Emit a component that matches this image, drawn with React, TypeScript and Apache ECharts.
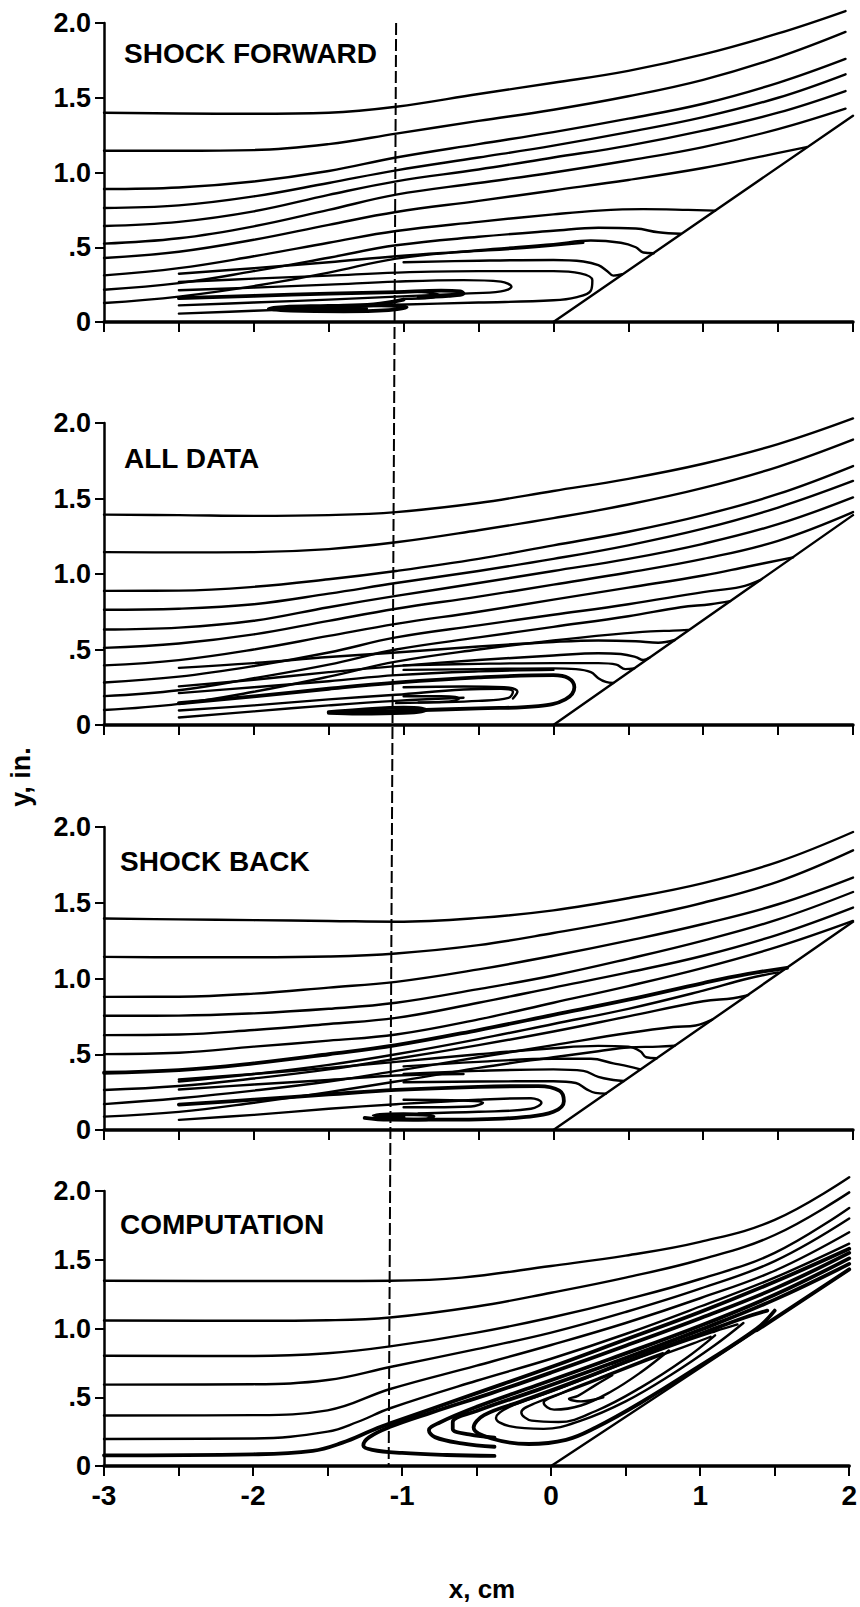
import React, { useEffect, useRef } from "react";
import * as echarts from "echarts";

const FONT = "'Liberation Sans', Arial, Helvetica, sans-serif";

const panelTitles = ["SHOCK FORWARD", "ALL DATA", "SHOCK BACK", "COMPUTATION"];
const yTickValues = [0, 0.5, 1, 1.5, 2];
const yTickTexts = ["0", ".5", "1.0", "1.5", "2.0"];
const xLabelValues = [-3, -2, -1, 0, 1, 2];
const xLabelTexts = ["-3", "-2", "-1", "0", "1", "2"];
const rampTops = [1.38, 1.39, 1.374, 1.43];
const dashedLineX = [-1.05, -1.09];

// ---------- Panel 1: SHOCK FORWARD ----------
const p1A = [[-3,1.4],[-2.5,1.395],[-2,1.393],[-1.5,1.4],[-1.05,1.44],[-0.5,1.525],[0,1.6],[0.5,1.68],[1,1.79],[1.5,1.93],[1.95,2.08]];
const p1B = [[-3,1.145],[-2.5,1.145],[-2,1.15],[-1.5,1.19],[-1.05,1.26],[-0.5,1.345],[0,1.42],[0.5,1.51],[1,1.62],[1.5,1.77],[1.95,1.94]];
const p1C = [[-3,0.89],[-2.5,0.9],[-2,0.94],[-1.5,1.01],[-1.05,1.1],[-0.5,1.19],[0,1.27],[0.5,1.36],[1,1.46],[1.5,1.6],[1.95,1.76]];
const p1D = [[-3,0.763],[-2.5,0.78],[-2,0.84],[-1.5,0.93],[-1.05,1.014],[-0.5,1.1],[0,1.18],[0.5,1.27],[1,1.37],[1.5,1.5],[1.95,1.657]];
const p1E = [[-3,0.642],[-2.5,0.67],[-2,0.74],[-1.5,0.85],[-1.05,0.941],[-0.5,1.02],[0,1.1],[0.5,1.18],[1,1.28],[1.5,1.4],[1.95,1.545]];
const p1F = [[-3,0.524],[-2.5,0.56],[-2,0.64],[-1.5,0.75],[-1.05,0.852],[-0.5,0.93],[0,1.0],[0.5,1.08],[1,1.17],[1.5,1.29],[1.95,1.427]];
const p1G = [[-3,0.428],[-2.5,0.47],[-2,0.55],[-1.5,0.65],[-1.05,0.736],[-0.5,0.81],[0,0.88],[0.5,0.95],[1,1.03],[1.4,1.11],[1.69,1.17]];
const p1H = [[-3,0.312],[-2.5,0.36],[-2,0.44],[-1.5,0.53],[-1.05,0.609],[-0.5,0.67],[0,0.72],[0.3,0.745],[0.6,0.755],[0.9,0.75],[1.08,0.745]];
const p1I = [[-3,0.216],[-2.5,0.26],[-2,0.34],[-1.5,0.43],[-1.05,0.513],[-0.5,0.57],[0,0.61],[0.3,0.63],[0.55,0.625],[0.7,0.6],[0.85,0.59]];
const p1J = [[-3,0.127],[-2.5,0.17],[-2,0.24],[-1.5,0.33],[-1.05,0.424],[-0.5,0.48],[0,0.52],[0.25,0.545],[0.45,0.53],[0.55,0.5],[0.6,0.465],[0.67,0.46]];
const p1K = [[-1.0,0.4],[-0.5,0.41],[0,0.415],[0.2,0.405],[0.3,0.38],[0.36,0.34],[0.4,0.31],[0.46,0.32]];
const p1L1 = [[-2.5,0.323],[-2,0.36],[-1.5,0.4],[-1.05,0.44],[-0.6,0.47],[-0.2,0.495],[0.2,0.53]];
const p1U1 = [[-2.5,0.268],[-2,0.29],[-1.5,0.31],[-1.05,0.33],[-0.5,0.34],[0,0.34],[0.18,0.325],[0.26,0.28],[0.25,0.21],[0.15,0.165],[0,0.145],[-0.5,0.13],[-1.05,0.115],[-1.5,0.095],[-2,0.075],[-2.5,0.056]];
const p1U2 = [[-2.5,0.212],[-2,0.23],[-1.5,0.25],[-1.05,0.27],[-0.6,0.28],[-0.35,0.27],[-0.28,0.235],[-0.35,0.205],[-0.6,0.19],[-1.05,0.17],[-1.5,0.15],[-2,0.13],[-2.5,0.111]];
const p1U3 = [[-2.5,0.16],[-2,0.175],[-1.5,0.19],[-1.05,0.2],[-0.75,0.21],[-0.62,0.205],[-0.6,0.19],[-0.7,0.175],[-0.9,0.165]];
const p1Eye = [[-1.0,0.15],[-1.2,0.118],[-1.5,0.108],[-1.8,0.1],[-1.9,0.09],[-1.75,0.076],[-1.4,0.072],[-1.1,0.08],[-0.98,0.098],[-1.15,0.112],[-1.5,0.105],[-1.75,0.092],[-1.5,0.086],[-1.25,0.09]];
const p1Hook = [[-0.98,0.205],[-0.85,0.198],[-0.76,0.18],[-0.82,0.162],[-1.0,0.155]];

// ---------- Panel 2: ALL DATA ----------
const p2A = [[-3,1.393],[-2.5,1.39],[-2,1.385],[-1.5,1.39],[-1.05,1.41],[-0.5,1.47],[0,1.55],[0.5,1.63],[1,1.73],[1.5,1.86],[2,2.03]];
const p2B = [[-3,1.145],[-2.5,1.143],[-2,1.145],[-1.5,1.165],[-1.05,1.21],[-0.5,1.29],[0,1.37],[0.5,1.46],[1,1.57],[1.5,1.71],[2,1.89]];
const p2C = [[-3,0.888],[-2.5,0.89],[-2,0.915],[-1.5,0.965],[-1.05,1.02],[-0.5,1.1],[0,1.19],[0.5,1.28],[1,1.39],[1.5,1.53],[2,1.715]];
const p2D = [[-3,0.763],[-2.5,0.77],[-2,0.8],[-1.5,0.87],[-1.05,0.94],[-0.5,1.02],[0,1.1],[0.5,1.19],[1,1.3],[1.5,1.44],[2,1.616]];
const p2E = [[-3,0.632],[-2.5,0.645],[-2,0.69],[-1.5,0.78],[-1.05,0.855],[-0.5,0.94],[0,1.02],[0.5,1.1],[1,1.2],[1.5,1.33],[2,1.507]];
const p2F = [[-3,0.511],[-2.5,0.54],[-2,0.6],[-1.5,0.69],[-1.05,0.77],[-0.5,0.85],[0,0.93],[0.5,1.01],[1,1.1],[1.5,1.22],[2,1.41]];
const p2G = [[-3,0.395],[-2.5,0.43],[-2,0.5],[-1.5,0.59],[-1.05,0.67],[-0.5,0.75],[0,0.83],[0.5,0.91],[1,0.99],[1.3,1.05],[1.6,1.11]];
const p2H = [[-3,0.281],[-2.5,0.32],[-2,0.39],[-1.5,0.48],[-1.05,0.58],[-0.5,0.66],[0,0.73],[0.5,0.8],[1,0.88],[1.25,0.915],[1.38,0.96]];
const p2I = [[-3,0.191],[-2.5,0.23],[-2,0.31],[-1.5,0.4],[-1.05,0.5],[-0.5,0.58],[0,0.65],[0.5,0.72],[0.85,0.78],[1.05,0.8],[1.18,0.82]];
const p2J = [[-3,0.099],[-2.5,0.14],[-2,0.22],[-1.5,0.32],[-1.05,0.42],[-0.5,0.5],[0,0.56],[0.4,0.6],[0.65,0.62],[0.8,0.625],[0.9,0.63]];
const p2L1 = [[-2.5,0.378],[-2,0.41],[-1.5,0.45],[-1.05,0.48],[-0.5,0.52],[0,0.55],[0.3,0.56],[0.55,0.555],[0.7,0.545],[0.81,0.563]];
const p2L2 = [[-2.5,0.256],[-2,0.3],[-1.5,0.35],[-1.05,0.39],[-0.5,0.43],[0,0.46],[0.3,0.475],[0.45,0.47],[0.55,0.45],[0.6,0.43],[0.64,0.445]];
const p2M1 = [[-1.0,0.395],[-0.5,0.405],[0,0.41],[0.3,0.41],[0.42,0.4],[0.48,0.37],[0.54,0.375]];
const p2K = [[-1.0,0.365],[-0.5,0.37],[0,0.375],[0.15,0.37],[0.25,0.35],[0.3,0.31],[0.35,0.285],[0.4,0.278]];
const p2U1 = [[-2.5,0.144],[-2,0.19],[-1.5,0.24],[-1.05,0.28],[-0.5,0.315],[0,0.33],[0.1,0.31],[0.14,0.25],[0.08,0.17],[-0.1,0.125],[-0.5,0.11],[-1.0,0.095],[-1.4,0.08]];
const p2U2 = [[-2.5,0.096],[-2,0.13],[-1.5,0.17],[-1.05,0.2],[-0.6,0.235],[-0.35,0.24],[-0.27,0.22],[-0.3,0.18],[-0.5,0.16],[-0.8,0.15],[-1.05,0.145]];
const p2U2b = [[-1.0,0.25],[-0.6,0.255],[-0.33,0.25],[-0.24,0.22],[-0.27,0.175]];
const p2U3 = [[-1.0,0.19],[-0.75,0.19],[-0.63,0.175],[-0.7,0.155],[-0.9,0.15]];
const p2Eye = [[-1.5,0.08],[-1.3,0.075],[-1.0,0.08],[-0.85,0.1],[-1.0,0.115],[-1.3,0.1],[-1.5,0.085]];
const p2L3 = [[-2.5,0.211],[-2,0.25],[-1.5,0.29],[-1.05,0.33],[-0.5,0.355],[0,0.365]];
const p2L4 = [[-2.5,0.05],[-2,0.09],[-1.5,0.13],[-1.05,0.16],[-0.6,0.18]];

// ---------- Panel 3: SHOCK BACK ----------
const p3A = [[-3,1.396],[-2.5,1.39],[-2,1.385],[-1.5,1.38],[-1.05,1.375],[-0.5,1.4],[0,1.45],[0.5,1.53],[1,1.63],[1.5,1.77],[2,1.967]];
const p3B = [[-3,1.143],[-2.5,1.14],[-2,1.14],[-1.5,1.145],[-1.05,1.165],[-0.5,1.22],[0,1.3],[0.5,1.39],[1,1.5],[1.5,1.64],[2,1.846]];
const p3C = [[-3,0.879],[-2.5,0.88],[-2,0.9],[-1.5,0.94],[-1.05,0.978],[-0.5,1.06],[0,1.15],[0.5,1.25],[1,1.36],[1.5,1.49],[2,1.666]];
const p3D = [[-3,0.754],[-2.5,0.755],[-2,0.77],[-1.5,0.8],[-1.05,0.84],[-0.5,0.93],[0,1.02],[0.5,1.13],[1,1.25],[1.5,1.39],[2,1.571]];
const p3E = [[-3,0.626],[-2.5,0.63],[-2,0.66],[-1.5,0.7],[-1.05,0.74],[-0.5,0.84],[0,0.94],[0.5,1.04],[1,1.15],[1.5,1.29],[2,1.468]];
const p3F = [[-3,0.501],[-2.5,0.51],[-2,0.55],[-1.5,0.59],[-1.05,0.63],[-0.5,0.73],[0,0.84],[0.5,0.95],[1,1.07],[1.5,1.21],[2,1.38]];
const p3G = [[-3,0.378],[-2.5,0.395],[-2,0.44],[-1.5,0.5],[-1.05,0.56],[-0.5,0.66],[0,0.76],[0.5,0.86],[1,0.97],[1.3,1.03],[1.56,1.07]];
const p3G2 = [[-2.5,0.32],[-2,0.37],[-1.5,0.43],[-1.05,0.5],[-0.5,0.6],[0,0.7],[0.5,0.8],[1,0.92],[1.3,1.0],[1.5,1.04]];
const p3H = [[-3,0.264],[-2.5,0.29],[-2,0.34],[-1.5,0.4],[-1.05,0.47],[-0.5,0.56],[0,0.65],[0.5,0.75],[1,0.85],[1.2,0.87],[1.3,0.89]];
const p3I = [[-3,0.171],[-2.5,0.21],[-2,0.26],[-1.5,0.32],[-1.05,0.39],[-0.5,0.48],[0,0.56],[0.5,0.64],[0.8,0.68],[0.95,0.69],[1.06,0.728]];
const p3J = [[-3,0.088],[-2.5,0.12],[-2,0.18],[-1.5,0.25],[-1.05,0.32],[-0.5,0.41],[0,0.48],[0.3,0.52],[0.5,0.545],[0.7,0.55],[0.81,0.556]];
const p3L1 = [[-2.5,0.333],[-2,0.37],[-1.5,0.41],[-1.05,0.45],[-0.5,0.5],[0,0.54],[0.3,0.555],[0.5,0.55],[0.58,0.52],[0.62,0.48],[0.69,0.474]];
const p3L2 = [[-2.5,0.267],[-2,0.3],[-1.5,0.33],[-1.05,0.36],[-0.6,0.37]];
const p3M1 = [[-1.0,0.42],[-0.5,0.45],[0,0.47],[0.25,0.47],[0.4,0.44],[0.5,0.42],[0.58,0.4]];
const p3M2 = [[-1.0,0.37],[-0.5,0.39],[0,0.4],[0.2,0.39],[0.3,0.35],[0.4,0.33],[0.47,0.323]];
const p3K = [[-1.0,0.315],[-0.5,0.32],[0,0.322],[0.15,0.31],[0.22,0.27],[0.28,0.245],[0.35,0.24]];
const p3U1 = [[-2.5,0.167],[-2,0.2],[-1.5,0.235],[-1.05,0.265],[-0.5,0.285],[-0.1,0.29],[0.04,0.26],[0.07,0.19],[0,0.12],[-0.2,0.085],[-0.5,0.07],[-0.8,0.068],[-1.1,0.072]];
const p3U2 = [[-2.5,0.067],[-2,0.1],[-1.5,0.14],[-1.05,0.17],[-0.5,0.2],[-0.15,0.21],[-0.08,0.18],[-0.15,0.14],[-0.5,0.12],[-0.9,0.11]];
const p3U3 = [[-1.0,0.2],[-0.6,0.195],[-0.47,0.18],[-0.55,0.155],[-0.8,0.15],[-1.0,0.15]];
const p3Eye = [[-1.26,0.08],[-1.1,0.068],[-0.85,0.07],[-0.8,0.09],[-1.0,0.105],[-1.2,0.095],[-1.0,0.085]];

// ---------- Panel 4: COMPUTATION ----------
const p4A = [[-3,1.347],[-2,1.345],[-1.5,1.345],[-1.08,1.347],[-0.6,1.37],[0,1.455],[0.5,1.53],[1,1.63],[1.5,1.79],[2,2.1]];
const p4B = [[-3,1.058],[-2,1.056],[-1.5,1.06],[-1.08,1.08],[-0.5,1.16],[0,1.26],[0.5,1.37],[1,1.5],[1.5,1.68],[2,1.99]];
const p4C = [[-3,0.802],[-2,0.8],[-1.5,0.82],[-1.08,0.87],[-0.5,0.97],[0,1.08],[0.5,1.21],[1,1.36],[1.5,1.55],[2,1.877]];
const p4D = [[-3,0.592],[-2,0.595],[-1.5,0.625],[-1.08,0.72],[-0.5,0.85],[0,0.97],[0.5,1.12],[1,1.29],[1.5,1.49],[2,1.8]];
const p4E = [[-3,0.367],[-2,0.37],[-1.5,0.405],[-1.08,0.56],[-0.5,0.73],[0,0.88],[0.5,1.04],[1,1.22],[1.5,1.42],[2,1.7]];
const p4F = [[-3,0.196],[-2,0.2],[-1.5,0.25],[-1.3,0.32],[-1.08,0.42],[-0.5,0.62],[0,0.78],[0.5,0.96],[1,1.16],[1.5,1.37],[2,1.617]];
const p4G = [[-3,0.078],[-2,0.085],[-1.6,0.11],[-1.4,0.17],[-1.2,0.26],[-1.08,0.31],[-0.5,0.53],[0,0.72],[0.5,0.92],[1,1.12],[1.5,1.34],[2,1.58]];
const p4H1 = [[-0.38,0.073],[-0.7,0.08],[-1.0,0.095],[-1.2,0.118],[-1.26,0.15],[-1.22,0.21],[-1.08,0.285],[-0.8,0.39],[-0.4,0.53],[0,0.68],[0.5,0.875],[1,1.075],[1.5,1.29],[2,1.55]];
const p4H2 = [[-0.38,0.14],[-0.6,0.165],[-0.78,0.21],[-0.82,0.26],[-0.75,0.315],[-0.5,0.43],[-0.1,0.585],[0.4,0.78],[1,1.02],[1.5,1.245],[2,1.51]];
const p4H3 = [[-0.38,0.207],[-0.55,0.23],[-0.66,0.27],[-0.66,0.32],[-0.5,0.4],[-0.1,0.55],[0.4,0.745],[1,0.99],[1.5,1.21],[2,1.47]];
const p4O1 = [[1.5,1.13],[1.38,1.0],[1.0,0.73],[0.6,0.46],[0.3,0.28],[0.1,0.19],[-0.15,0.16],[-0.4,0.2],[-0.52,0.28],[-0.45,0.37],[-0.2,0.47],[0.2,0.63],[0.6,0.8],[1.0,0.96],[1.3,1.08],[1.45,1.13]];
const p4O2 = [[1.29,1.04],[1.1,0.88],[0.8,0.66],[0.5,0.47],[0.2,0.33],[-0.05,0.27],[-0.28,0.29],[-0.37,0.35],[-0.28,0.43],[0,0.54],[0.4,0.71],[0.8,0.87],[1.1,0.98],[1.25,1.03]];
const p4O3 = [[1.1,0.95],[0.9,0.78],[0.6,0.57],[0.3,0.4],[0.05,0.32],[-0.13,0.33],[-0.2,0.39],[-0.1,0.46],[0.2,0.58],[0.6,0.75],[0.95,0.89],[1.07,0.94]];
const p4O4 = [[0.79,0.84],[0.6,0.68],[0.4,0.54],[0.2,0.44],[0.02,0.41],[-0.05,0.46],[0.05,0.52],[0.3,0.63],[0.6,0.76],[0.75,0.82]];
const p4O5 = [[0.41,0.66],[0.3,0.59],[0.18,0.51],[0.12,0.49],[0.2,0.47],[0.35,0.5]];
const p4RampThick = [[1.38,0.987],[2,1.43]];

const panelThin = [
  [p1A, p1B, p1C, p1D, p1E, p1F, p1G, p1H, p1I, p1J, p1K, p1L1, p1U1, p1U2, p1Hook],
  [p2A, p2B, p2C, p2D, p2E, p2F, p2G, p2H, p2I, p2J, p2L1, p2L2, p2M1, p2K, p2U2, p2U2b, p2U3, p2L3, p2L4],
  [p3A, p3B, p3C, p3D, p3E, p3F, p3G2, p3H, p3I, p3J, p3L1, p3L2, p3M1, p3M2, p3K, p3U2, p3U3],
  [p4A, p4B, p4C, p4D, p4E, p4F, p4O2, p4O3, p4O4, p4O5],
];
const panelThick = [
  [p1U3, p1Eye],
  [p2U1, p2Eye],
  [p3G, p3U1, p3Eye],
  [p4G, p4H1, p4H2, p4H3, p4O1, p4RampThick],
];

// layout in px
const gridLeft = 104;
const gridWidth = 749;
const gridTops = [23, 423, 827, 1191];
const gridHeights = [299, 302, 303, 275];
const titlePos = [[124, 53], [124, 458], [120, 861], [120, 1224]];

function lineSeries(data: number[][], gi: number, width: number, smooth = 0.4) {
  return {
    type: "line",
    xAxisIndex: gi,
    yAxisIndex: gi,
    data,
    smooth,
    symbol: "none",
    showSymbol: false,
    clip: false,
    silent: true,
    lineStyle: { color: "#000", width, cap: "round", join: "round" },
    z: 3,
  };
}

export default function App() {
  const ref = useRef<HTMLDivElement>(null);
  useEffect(() => {
    if (!ref.current) return;
    const chart = echarts.init(ref.current, null, { renderer: "svg" });
    const grids = gridTops.map((t, i) => ({ left: gridLeft, width: gridWidth, top: t, height: gridHeights[i] }));
    const xAxes = gridTops.map((_, i) => ({
      gridIndex: i,
      type: "value",
      min: -3,
      max: 2,
      interval: 0.5,
      axisLine: { onZero: false, lineStyle: { color: "#000", width: 3.5 } },
      axisTick: { show: true, inside: false, length: 10, lineStyle: { color: "#000", width: 2 } },
      axisLabel: {
        show: i === 3,
        color: "#000",
        fontSize: 28,
        fontWeight: "bold",
        fontFamily: FONT,
        margin: 15,
        formatter: (v: number) => {
          const k = xLabelValues.indexOf(v);
          return k >= 0 ? xLabelTexts[k] : "";
        },
      },
      splitLine: { show: false },
    }));
    const yAxes = gridTops.map((_, i) => ({
      gridIndex: i,
      type: "value",
      min: 0,
      max: 2,
      interval: 0.5,
      axisLine: { show: true, onZero: false, lineStyle: { color: "#000", width: 2.5 } },
      axisTick: { show: true, inside: false, length: 9, lineStyle: { color: "#000", width: 2 } },
      axisLabel: {
        color: "#000",
        fontSize: 27,
        fontWeight: "bold",
        fontFamily: FONT,
        margin: 13,
        formatter: (v: number) => {
          const k = yTickValues.indexOf(v);
          return k >= 0 ? yTickTexts[k] : "";
        },
      },
      splitLine: { show: false },
    }));
    const series: any[] = [];
    for (let i = 0; i < 4; i++) {
      series.push({ ...lineSeries([[0, 0], [2, rampTops[i]]], i, 2.4, 0), z: 4 });
      panelThin[i].forEach((d) => series.push(lineSeries(d, i, 2.4)));
      panelThick[i].forEach((d) => series.push(lineSeries(d, i, 3.8)));
    }
    chart.setOption({
      animation: false,
      backgroundColor: "#fff",
      grid: grids,
      xAxis: xAxes,
      yAxis: yAxes,
      series,
    });
    const top = chart.convertToPixel({ gridIndex: 0 } as any, [dashedLineX[0], 2]) as number[];
    const bot = chart.convertToPixel({ gridIndex: 3 } as any, [dashedLineX[1], 0]) as number[];
    const graphic: any[] = panelTitles.map((t, i) => ({
      type: "text",
      x: titlePos[i][0],
      y: titlePos[i][1],
      style: { text: t, fill: "#000", fontSize: 28, fontWeight: "bold", fontFamily: FONT, verticalAlign: "middle", align: "left" },
    }));
    graphic.push({
      type: "line",
      shape: { x1: top[0], y1: top[1], x2: bot[0], y2: bot[1] },
      style: { stroke: "#000", lineWidth: 2, lineDash: [12, 4] },
      z: 10,
    });
    graphic.push({
      type: "text",
      x: 21,
      y: 777,
      rotation: Math.PI / 2,
      style: { text: "y, in.", fill: "#000", fontSize: 27, fontWeight: "bold", fontFamily: FONT, align: "center", verticalAlign: "middle" },
    });
    graphic.push({
      type: "text",
      x: 482,
      y: 1589,
      style: { text: "x, cm", fill: "#000", fontSize: 26, fontWeight: "bold", fontFamily: FONT, align: "center", verticalAlign: "middle" },
    });
    chart.setOption({ graphic });
    return () => chart.dispose();
  }, []);
  return <div ref={ref} style={{ position: "absolute", left: 0, top: 0, width: 860, height: 1607, background: "#fff" }} />;
}
